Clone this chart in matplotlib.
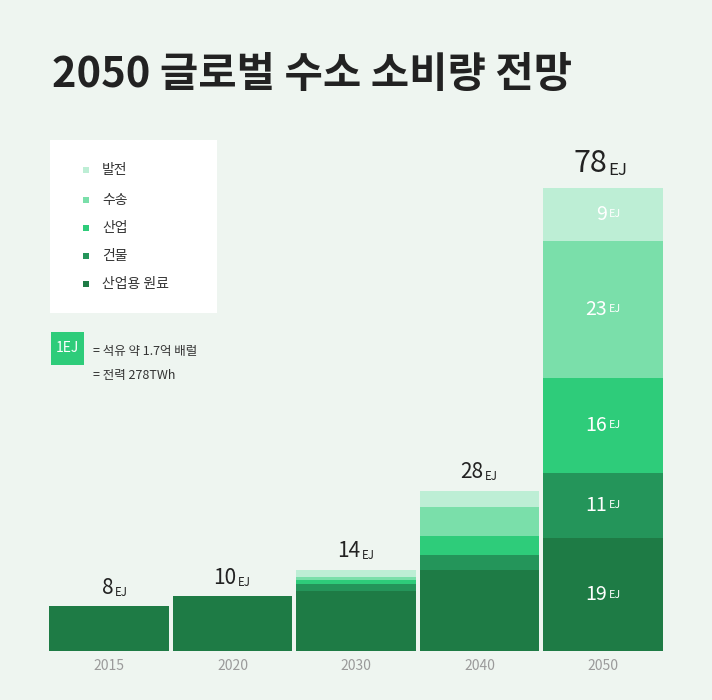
import matplotlib
matplotlib.use("Agg")
import matplotlib.pyplot as plt
from matplotlib.patches import Rectangle

plt.rcParams['font.family'] = ['Noto Sans CJK KR', 'DejaVu Sans']

years = ["2015", "2020", "2030", "2040", "2050"]
totals = [8, 10, 14, 28, 78]
series_names = ["산업용 원료", "건물", "산업", "수송", "발전"]
feedstock = [7.6, 9.2, 10.1, 13.6, 19]
buildings = [0, 0, 1.2, 2.5, 11]
industry = [0, 0, 0.7, 3.2, 16]
transport = [0, 0, 0.5, 5.0, 23]
power = [0, 0, 1.2, 2.7, 9]
colors = ["#1e7b45", "#24955a", "#2ecc7a", "#7adfaa", "#bdeed5"]
bg = "#eef5f0"

W, H = 712, 700
fig = plt.figure(figsize=(W/100, H/100), dpi=100, facecolor=bg)
ax = fig.add_axes([47.3/W, 49/H, (664.7-47.3)/W, 511/H])
ax.set_facecolor("none")
ax.set_xlim(-0.5, 4.5)
ax.set_ylim(0, 86)
for s in ax.spines.values():
    s.set_visible(False)
ax.set_yticks([])
ax.set_xticks(range(5))
ax.set_xticklabels(years, color="#9a9a9a", fontsize=10)
ax.tick_params(axis='x', length=0, pad=6)

data = [feedstock, buildings, industry, transport, power]
bottom = [0]*5
for vals, c in zip(data, colors):
    ax.bar(range(5), vals, bottom=bottom, width=0.965, color=c, linewidth=0)
    bottom = [b+v for b, v in zip(bottom, vals)]

def label(x, y, num, size, color, va='bottom'):
    ax.annotate(str(num), (x, y), xytext=(3, 0), textcoords='offset points',
                ha='right', va=va, fontsize=size, color=color, fontweight='medium')
    ax.annotate("EJ", (x, y), xytext=(4, 0), textcoords='offset points',
                ha='left', va=va, fontsize=size*0.55, color=color)

for i, t in enumerate(totals):
    if i == 4:
        label(i, bottom[i] + 1.5, t, 22, "#222222")
    else:
        label(i, bottom[i] + 1.2, t, 15, "#222222")

# inner labels for 2050
b = 0
for vals, t in zip(data, [19, 11, 16, 23, 9]):
    v = vals[4]
    label(4, b + v/2, t, 14, "white", va='center')
    b += v

# title
fig.text(52/W, 1-75/H, "2050 글로벌 수소 소비량 전망", fontsize=30, fontweight='bold',
         color="#222222", va='center', ha='left')

# legend box
fig.patches.append(Rectangle((50/W, 1-313/H), 167/W, 173/H, transform=fig.transFigure,
                             facecolor="white", edgecolor="none"))
leg_y = [170, 200, 228, 256, 284]
leg_names = ["발전", "수송", "산업", "건물", "산업용 원료"]
leg_cols = colors[::-1]
for y, n, c in zip(leg_y, leg_names, leg_cols):
    fig.patches.append(Rectangle((83/W, 1-(y+3)/H), 6/W, 6/H, transform=fig.transFigure,
                                 facecolor=c, edgecolor="none"))
    fig.text(102/W, 1-y/H, n, fontsize=10, color="#333333", va='center')

fig.patches.append(Rectangle((51/W, 1-365/H), 33/W, 33/H, transform=fig.transFigure,
                             facecolor="#2ecc7a", edgecolor="none"))
fig.text(67.5/W, 1-348/H, "1EJ", fontsize=10, color="white", va='center', ha='center')
fig.text(93/W, 1-351/H, "= 석유 약 1.7억 배럴", fontsize=9, color="#333333", va='center')
fig.text(93/W, 1-375/H, "= 전력 278TWh", fontsize=9, color="#333333", va='center')

fig.savefig("out.png", dpi=100, facecolor=bg)
